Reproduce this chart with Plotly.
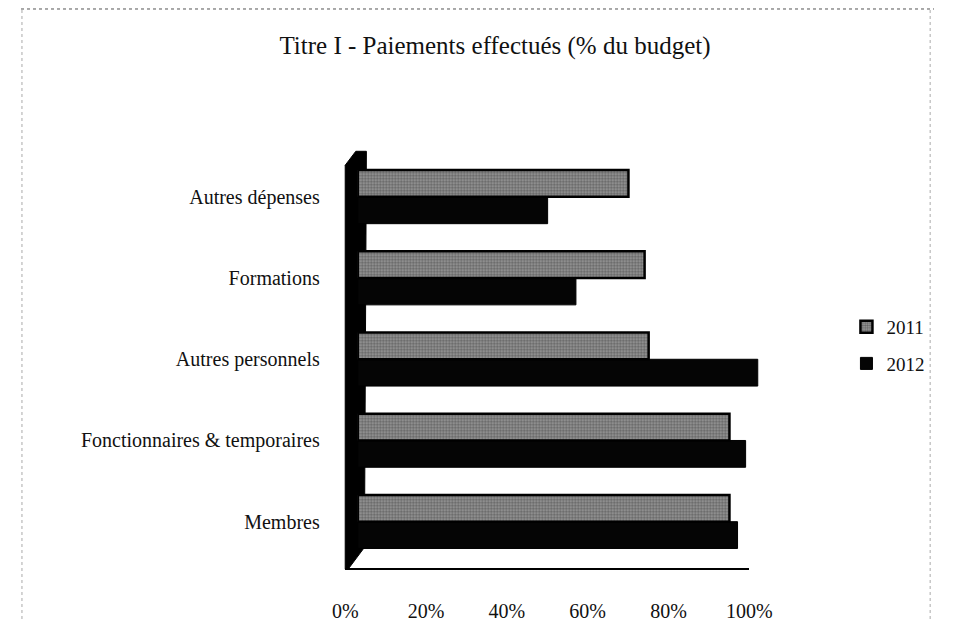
import plotly.graph_objects as go

# The page body has an 8px margin; the figure is sized to fit inside it
OFF = 8
W, H = 965 - 2 * OFF, 630 - 2 * OFF

categories = ["Membres", "Fonctionnaires & temporaires", "Autres personnels",
              "Formations", "Autres dépenses"]
values_2011 = [0.92, 0.92, 0.72, 0.71, 0.67]
values_2012 = [0.94, 0.96, 0.99, 0.54, 0.47]
tick_vals = [0, 0.2, 0.4, 0.6, 0.8, 1.0]
tick_text = ["0%", "20%", "40%", "60%", "80%", "100%"]

SERIF = "Liberation Serif, DejaVu Serif, serif"


def px_x(p):
    return (p - OFF) / W


def px_y(p):
    return 1 - (p - OFF) / H


fig = go.Figure()

fig.add_trace(go.Bar(
    y=categories, x=values_2012, name="2012", orientation="h",
    marker=dict(color="#050505", line=dict(color="#000000", width=1)),
    legendrank=2, legendgroup="b",
))
fig.add_trace(go.Bar(
    y=categories, x=values_2011, name="2011", orientation="h",
    marker=dict(color="#8a8a8a",
                line=dict(color="#000000", width=2.5),
                pattern=dict(shape=".", fgcolor="#2a2a2a", bgcolor="#9c9c9c",
                             size=3, solidity=0.5)),
    legendrank=1, legendgroup="a",
))
# helper trace for the labelled front axis
fig.add_trace(go.Scatter(x=[None], y=[None], xaxis="x2", yaxis="y",
                         showlegend=False, hoverinfo="skip"))

# 3D wall on the left (decoration)
wall = (f"M {px_x(345)} {px_y(166)} L {px_x(356)} {px_y(152)} L {px_x(367)} {px_y(152)} "
        f"L {px_x(365)} {px_y(550)} L {px_x(348)} {px_y(572)} L {px_x(345)} {px_y(572)} Z")
shapes = [
    dict(type="path", xref="paper", yref="paper", path=wall,
         fillcolor="#000000", line=dict(color="#000000", width=1), layer="below"),
    dict(type="line", xref="paper", yref="paper", x0=0, x1=1,
         y0=px_y(9), y1=px_y(9),
         line=dict(color="#555555", width=1, dash="dot")),
    dict(type="line", xref="paper", yref="paper", x0=px_x(9), x1=px_x(9),
         y0=0, y1=px_y(9),
         line=dict(color="#aaaaaa", width=1, dash="dot")),
    dict(type="line", xref="paper", yref="paper", x0=px_x(953), x1=px_x(953),
         y0=0, y1=px_y(9),
         line=dict(color="#aaaaaa", width=1, dash="dot")),
]

fig.update_layout(
    width=W, height=H,
    margin=dict(l=0, r=0, t=0, b=0),
    paper_bgcolor="white", plot_bgcolor="rgba(0,0,0,0)",
    barmode="group", bargap=0.34, bargroupgap=0.0,
    font=dict(family=SERIF, size=20, color="#111111"),
    title=dict(text="Titre I - Paiements effectués (% du budget)",
               x=px_x(495), xanchor="center", y=px_y(45), yanchor="middle",
               font=dict(family=SERIF, size=25, color="#111111")),
    xaxis=dict(domain=[px_x(358), px_x(778)], range=[0, 1], anchor="y",
               showticklabels=False, showgrid=False, zeroline=False,
               showline=False, ticks=""),
    xaxis2=dict(domain=[px_x(345), px_x(765)], range=[0, 1],
                anchor="free", position=px_y(572),
                tickvals=tick_vals, ticktext=tick_text, showgrid=False,
                zeroline=False, showline=True, linecolor="#000000", linewidth=1.5,
                ticks="", ticklabelstandoff=24,
                tickfont=dict(family=SERIF, size=20, color="#111111")),
    yaxis=dict(domain=[px_y(565), px_y(157)], anchor="x",
               categoryorder="array", categoryarray=categories,
               showgrid=False, zeroline=False, showline=False, ticks="",
               ticklabelstandoff=37,
               tickfont=dict(family=SERIF, size=20, color="#111111")),
    legend=dict(x=px_x(866), xanchor="left", y=px_y(347), yanchor="middle",
                font=dict(family=SERIF, size=19, color="#111111"),
                bgcolor="rgba(0,0,0,0)", itemwidth=30, tracegroupgap=9,
                traceorder="grouped"),
    shapes=shapes,
    showlegend=True,
)

fig.write_html("out.html")
